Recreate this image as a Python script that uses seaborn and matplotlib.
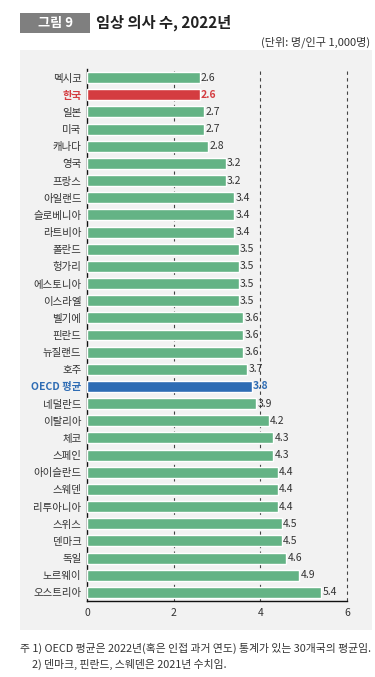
import pandas as pd
import seaborn as sns
import matplotlib.pyplot as plt
from matplotlib.patches import Rectangle
from matplotlib.ticker import FixedLocator

# data
countries = ['멕시코', '한국', '일본', '미국', '캐나다', '영국', '프랑스', '아일랜드',
             '슬로베니아', '라트비아', '폴란드', '헝가리', '에스토니아', '이스라엘',
             '벨기에', '핀란드', '뉴질랜드', '호주', 'OECD 평균', '네덜란드', '이탈리아',
             '체코', '스페인', '아이슬란드', '스웨덴', '리투아니아', '스위스', '덴마크',
             '독일', '노르웨이', '오스트리아']
values = [2.6, 2.6, 2.7, 2.7, 2.8, 3.2, 3.2, 3.4, 3.4, 3.4, 3.5, 3.5, 3.5, 3.5,
          3.6, 3.6, 3.6, 3.7, 3.8, 3.9, 4.2, 4.3, 4.3, 4.4, 4.4, 4.4, 4.5, 4.5,
          4.6, 4.9, 5.4]
x_ticks = [0, 2, 4, 6]

green = '#64b385'
red = '#d43c40'
blue = '#2e6cb4'
highlight = {'한국': red, 'OECD 평균': blue}

df = pd.DataFrame({'country': countries, 'value': values})
palette = {c: highlight.get(c, green) for c in countries}

sns.set_style('white')
plt.rcParams['font.family'] = ['Noto Sans CJK KR', 'DejaVu Sans']

fig = plt.figure(figsize=(3.75, 6.77), dpi=100)
fig.patch.set_facecolor('white')

# grey panel behind the chart
fig.patches.append(Rectangle((20 / 375, 1 - 630 / 677), 352 / 375, 580 / 677,
                             transform=fig.transFigure, facecolor='#f2f2f2',
                             edgecolor='none', zorder=-2))
# title box
fig.patches.append(Rectangle((20 / 375, 1 - 33 / 677), 70 / 375, 20 / 677,
                             transform=fig.transFigure, facecolor='#7f7f7f',
                             edgecolor='none', zorder=-2))
fig.text(55 / 375, 1 - 23 / 677, '그림 9', color='white', fontsize=9.5,
         fontweight='bold', ha='center', va='center')
fig.text(96 / 375, 1 - 23 / 677, '임상 의사 수, 2022년', color='#222222',
         fontsize=11, fontweight='bold', ha='left', va='center')
fig.text(370 / 375, 1 - 42 / 677, '(단위: 명/인구 1,000명)', color='#333333',
         fontsize=8, ha='right', va='center')

ax = fig.add_axes([87 / 375, 1 - 601 / 677, 260 / 375, 532 / 677])
ax.set_facecolor('none')
ax.set_zorder(2)

sns.barplot(data=df, x='value', y='country', hue='country', palette=palette,
            legend=False, width=0.64, saturation=1, ax=ax, zorder=3)

ax.set_xlim(0, 6)
ax.set_ylim(len(countries) - 0.5, -0.5)
ax.set_xticks(x_ticks)
ax.set_xticklabels([str(t) for t in x_ticks])
ax.set_xlabel('')
ax.set_ylabel('')

for t in x_ticks[1:]:
    ax.axvline(t, color='#444444', linestyle=(0, (3, 3)), linewidth=0.8,
               zorder=1, clip_on=False)

for s in ['top', 'right']:
    ax.spines[s].set_visible(False)
for s in ['left', 'bottom']:
    ax.spines[s].set_color('#111111')
    ax.spines[s].set_linewidth(1.0)

ax.tick_params(axis='x', length=0, labelsize=7.5, labelcolor='#333333', pad=5)
ax.tick_params(axis='y', which='major', length=0, labelsize=7.5,
               labelcolor='#333333', pad=4)
ax.yaxis.set_minor_locator(FixedLocator([i - 0.5 for i in range(len(countries))]))
ax.tick_params(axis='y', which='minor', direction='in', length=5, width=0.9,
               color='#111111')

for lbl in ax.get_yticklabels():
    c = lbl.get_text()
    if c in highlight:
        lbl.set_color(highlight[c])
        lbl.set_fontweight('bold')

for i, (c, v) in enumerate(zip(countries, values)):
    if c in highlight:
        ax.text(v + 0.03, i, f'{v:.1f}', va='center', ha='left', fontsize=7.5,
                color=highlight[c], fontweight='bold', zorder=4)
    else:
        ax.text(v + 0.03, i, f'{v:.1f}', va='center', ha='left', fontsize=7.5,
                color='#333333', zorder=4)

fig.text(20 / 375, 1 - 648 / 677,
         '주 1) OECD 평균은 2022년(혹은 인접 과거 연도) 통계가 있는 30개국의 평균임.',
         fontsize=7.8, color='#333333', ha='left', va='center')
fig.text(32 / 375, 1 - 664 / 677, '2) 덴마크, 핀란드, 스웨덴은 2021년 수치임.',
         fontsize=7.8, color='#333333', ha='left', va='center')

fig.savefig('out.png', dpi=100)
